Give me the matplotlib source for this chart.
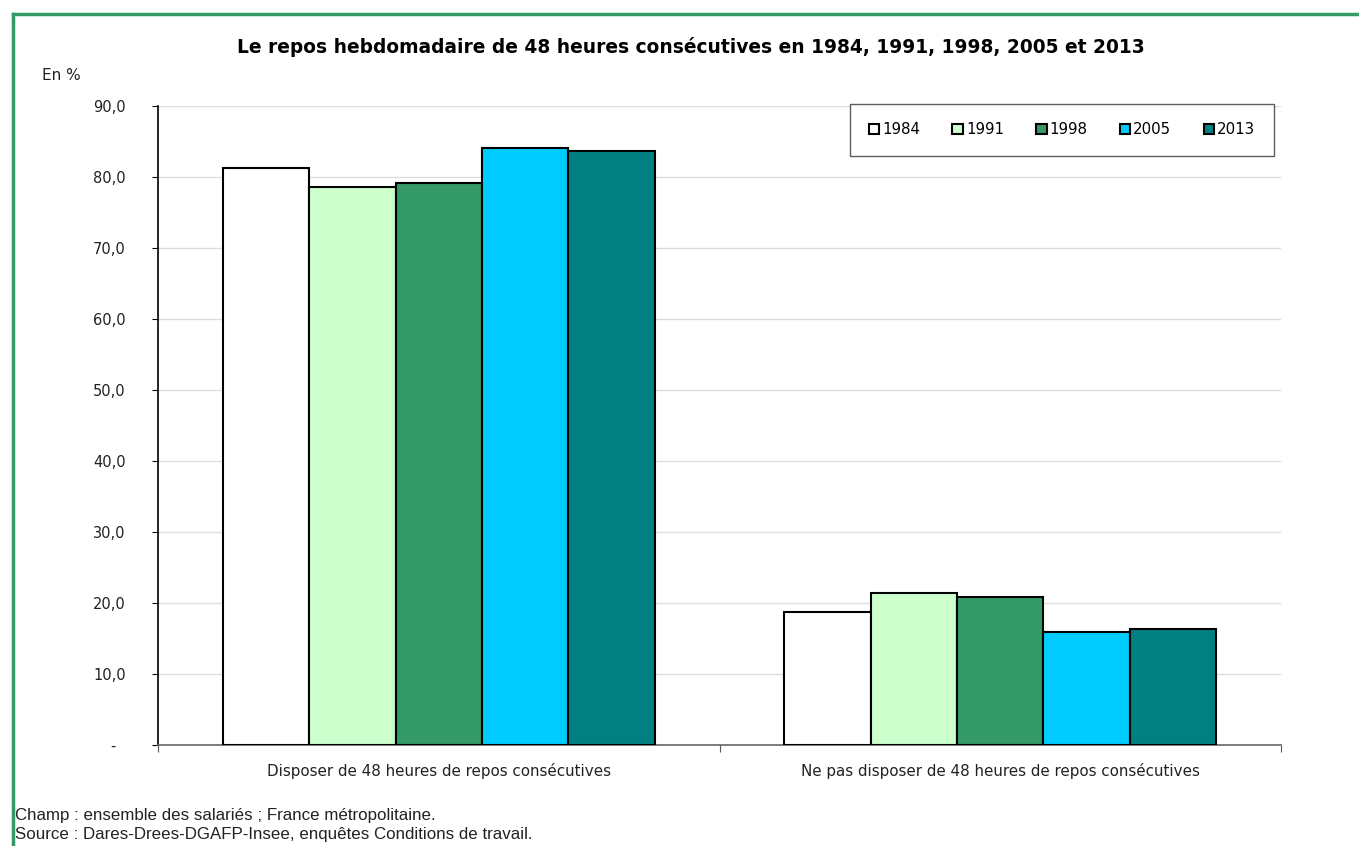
import matplotlib

matplotlib.use("Agg")

import matplotlib.pyplot as plt
from matplotlib.lines import Line2D

categories = [
    "Disposer de 48 heures de repos consécutives",
    "Ne pas disposer de 48 heures de repos consécutives",
]
years = ["1984", "1991", "1998", "2005", "2013"]
values = {
    "1984": [81.2, 18.8],
    "1991": [78.6, 21.4],
    "1998": [79.2, 20.8],
    "2005": [84.1, 15.9],
    "2013": [83.7, 16.3],
}
colors = ["#FFFFFF", "#CCFFCC", "#339966", "#00CCFF", "#008080"]
yticks = [0, 10, 20, 30, 40, 50, 60, 70, 80, 90]
ytick_labels = ["-  "] + [f"{v:.1f}".replace(".", ",") for v in yticks[1:]]

W, H = 1359, 846
fig = plt.figure(figsize=(W / 100, H / 100), dpi=100)
plt.rcParams["font.family"] = ["DejaVu Sans"]

ax = fig.add_axes([158 / W, 1 - 745 / H, 1123 / W, 639 / H])

width = 0.1537
for i, (year, col) in enumerate(zip(years, colors)):
    xs = [c + (i - 2) * width for c in range(len(categories))]
    ax.bar(xs, values[year], width=width, color=col, edgecolor="black",
           linewidth=1.5, label=year, zorder=3)

ax.set_xlim(-0.5, 1.5)
ax.set_ylim(0, 90)
ax.set_yticks(yticks)
ax.set_yticklabels(ytick_labels, fontsize=10.5, color="#222222")
ax.yaxis.grid(True, color="#DDDDDD", linewidth=1, zorder=0)
ax.set_axisbelow(True)

# category boundaries as ticks, labels at centres
ax.set_xticks([-0.5, 0.5, 1.5])
ax.set_xticklabels([])
ax.set_xticks([0, 1], minor=True)
ax.set_xticklabels(categories, minor=True, fontsize=10.9, color="#222222")
ax.tick_params(axis="x", which="major", length=5, color="#555555")
ax.tick_params(axis="x", which="minor", length=0, pad=13)
ax.tick_params(axis="y", length=4.3, pad=19)

for side in ("top", "right"):
    ax.spines[side].set_visible(False)
ax.spines["left"].set_color("black")
ax.spines["bottom"].set_color("#666666")
ax.spines["left"].set_linewidth(1.2)
ax.spines["bottom"].set_linewidth(1.2)

leg = fig.legend(loc="center", bbox_to_anchor=((850 + 1274) / 2 / W, 1 - 130 / H),
                 ncol=5, fontsize=10.8, frameon=True, fancybox=False,
                 handlelength=0.7, handleheight=0.7, handletextpad=0.2,
                 columnspacing=2.15, borderpad=1.25, borderaxespad=0)
leg.get_frame().set_edgecolor("#333333")
leg.get_frame().set_linewidth(1)

fig.text(691 / W, 1 - 47 / H,
         "Le repos hebdomadaire de 48 heures consécutives en 1984, 1991, 1998, 2005 et 2013",
         ha="center", va="center", fontsize=13.4, fontweight="bold")
fig.text(42 / W, 1 - 75 / H, "En %", ha="left", va="center", fontsize=11, color="#222222")
fig.text(15 / W, 1 - 815 / H, "Champ : ensemble des salariés ; France métropolitaine.",
         ha="left", va="center", fontsize=12.2, color="#222222", family="Liberation Sans")
fig.text(15 / W, 1 - 834 / H, "Source : Dares-Drees-DGAFP-Insee, enquêtes Conditions de travail.",
         ha="left", va="center", fontsize=12.2, color="#222222", family="Liberation Sans")

# green frame around the chart area (top and left edges visible)
green = "#339966"
fig.add_artist(Line2D([13 / W, 1.0], [1 - 14 / H, 1 - 14 / H], color=green, linewidth=2.5,
                      transform=fig.transFigure))
fig.add_artist(Line2D([13 / W, 13 / W], [0.0, 1 - 14 / H], color=green, linewidth=2.5,
                      transform=fig.transFigure))

fig.savefig("out.png", dpi=100)
plt.close(fig)
